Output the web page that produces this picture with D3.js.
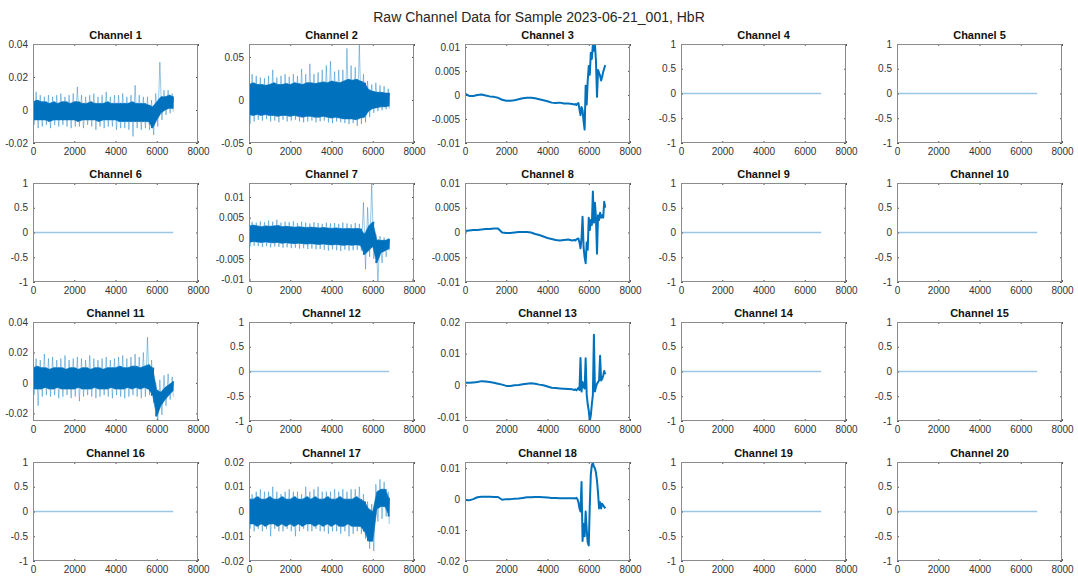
<!DOCTYPE html>
<html>
<head>
<meta charset="utf-8">
<script src="https://cdn.jsdelivr.net/npm/d3@7"></script>
<style>
body { margin: 0; background: #fff; }
svg { display: block; font-family: "Liberation Sans", Arial, Helvetica, sans-serif; }
</style>
</head>
<body>
<svg id="chart" width="1078" height="579"></svg>
<script>
// ---- data ----
var mainTitle = "Raw Channel Data for Sample 2023-06-21_001, HbR";
var channelNames = ["Channel 1","Channel 2","Channel 3","Channel 4","Channel 5",
                    "Channel 6","Channel 7","Channel 8","Channel 9","Channel 10",
                    "Channel 11","Channel 12","Channel 13","Channel 14","Channel 15",
                    "Channel 16","Channel 17","Channel 18","Channel 19","Channel 20"];
var channelKinds = ["noisy","noisy","trace","flat","flat",
                    "flat","noisy","trace","flat","flat",
                    "noisy","flat","trace","flat","flat",
                    "flat","noisy","trace","flat","flat"];

var xTicks = [0, 2000, 4000, 6000, 8000];
var flatTicks = [-1, -0.5, 0, 0.5, 1];

// y-axis range and tick values per channel
var yRanges = [[-0.02,0.04],[-0.05,0.065],[-0.01,0.0106],[-1,1],[-1,1],
               [-1,1],[-0.0106,0.0134],[-0.01,0.01],[-1,1],[-1,1],
               [-0.025,0.04],[-1,1],[-0.0113,0.02],[-1,1],[-1,1],
               [-1,1],[-0.02,0.02],[-0.02,0.012],[-1,1],[-1,1]];
var yTickSets = [[-0.02,0,0.02,0.04],[-0.05,0,0.05],[-0.01,-0.005,0,0.005,0.01],flatTicks,flatTicks,
                 flatTicks,[-0.01,-0.005,0,0.005,0.01],[-0.01,-0.005,0,0.005,0.01],flatTicks,flatTicks,
                 [-0.02,0,0.02,0.04],flatTicks,[-0.01,0,0.01,0.02],flatTicks,flatTicks,
                 flatTicks,[-0.02,-0.01,0,0.01,0.02],[-0.02,-0.01,0,0.01],flatTicks,flatTicks];

// flat channels: a line at zero over the whole recording
var flatX = [0, 6800];
var flatY = [0, 0];

// noisy channels, sampled every 200 points: dense band (lo/hi) and outer spikes
var binX = [0,200,400,600,800,1000,1200,1400,1600,1800,
            2000,2200,2400,2600,2800,3000,3200,3400,3600,3800,
            4000,4200,4400,4600,4800,5000,5200,5400,5600,5800,
            6000,6200,6400,6600,6800];

var ch1Hi = [.005,.006,.005,.005,.004,.005,.004,.005,.005,.004,
             .005,.005,.004,.004,.005,.004,.004,.004,.005,.004,
             .004,.004,.004,.004,.005,.004,.004,.004,.003,.002,
             .005,.008,.008,.009,.008];
var ch1Lo = [-.006,-.006,-.006,-.006,-.007,-.006,-.006,-.006,-.006,-.006,
             -.006,-.007,-.006,-.006,-.006,-.006,-.007,-.006,-.006,-.006,
             -.006,-.007,-.007,-.007,-.007,-.007,-.007,-.007,-.007,-.011,
             -.006,-.002,.000,.001,.001];
var ch1PeakHi = [.010,.011,.009,.008,.009,.008,.009,.010,.008,.009,
                 .010,.014,.009,.008,.009,.010,.008,.009,.011,.008,
                 .009,.009,.010,.008,.009,.015,.009,.008,.008,.006,
                 .010,.029,.012,.012,.010];
var ch1PeakLo = [-.009,-.011,-.010,-.009,-.011,-.009,-.010,-.009,-.010,-.011,
                 -.010,-.010,-.011,-.009,-.010,-.012,-.010,-.011,-.010,-.010,
                 -.012,-.011,-.011,-.012,-.016,-.011,-.012,-.011,-.012,-.015,
                 -.010,-.006,-.003,-.002,-.001];

var ch2Hi = [.018,.020,.018,.018,.017,.018,.020,.018,.018,.019,
             .018,.020,.019,.018,.020,.020,.019,.020,.021,.020,
             .022,.021,.020,.022,.024,.023,.024,.022,.020,.012,
             .010,.009,.009,.008,.008];
var ch2Lo = [-.017,-.018,-.017,-.018,-.017,-.018,-.018,-.019,-.018,-.018,
             -.019,-.018,-.019,-.020,-.019,-.019,-.020,-.020,-.019,-.020,
             -.021,-.020,-.021,-.022,-.022,-.022,-.023,-.021,-.020,-.013,
             -.010,-.009,-.008,-.008,-.007];
var ch2PeakHi = [.025,.030,.028,.026,.025,.028,.035,.026,.028,.030,
                 .027,.030,.028,.036,.030,.042,.030,.032,.035,.040,
                 .045,.033,.035,.035,.060,.040,.038,.065,.030,.022,
                 .018,.020,.017,.016,.013];
var ch2PeakLo = [-.028,-.025,-.023,-.024,-.022,-.025,-.024,-.026,-.023,-.025,
                 -.024,-.023,-.025,-.026,-.025,-.024,-.026,-.025,-.024,-.026,
                 -.027,-.025,-.026,-.027,-.028,-.027,-.030,-.028,-.026,-.020,
                 -.015,-.013,-.012,-.011,-.010];

var ch7Hi = [.0030,.0032,.0030,.0028,.0030,.0029,.0030,.0031,.0028,.0029,
             .0028,.0027,.0028,.0027,.0026,.0027,.0026,.0025,.0026,.0025,
             .0024,.0025,.0024,.0023,.0024,.0023,.0024,.0023,.0010,.0030,
             .0040,-.0005,-.0005,-.0005,-.0002];
var ch7Lo = [-.0010,-.0008,-.0009,-.0010,-.0009,-.0010,-.0011,-.0010,-.0012,-.0011,
             -.0012,-.0013,-.0012,-.0013,-.0014,-.0013,-.0014,-.0015,-.0014,-.0015,
             -.0016,-.0015,-.0016,-.0017,-.0016,-.0017,-.0016,-.0017,-.0040,-.0030,
             -.0020,-.0060,-.0035,-.0030,-.0025];
var ch7PeakHi = [.0042,.0040,.0038,.0041,.0039,.0043,.0040,.0045,.0038,.0040,
                 .0039,.0041,.0037,.0040,.0038,.0036,.0039,.0037,.0035,.0038,
                 .0036,.0037,.0035,.0038,.0036,.0034,.0037,.0035,.0087,.0075,
                 .0134,.0010,.0005,.0002,.0000];
var ch7PeakLo = [-.0020,-.0018,-.0019,-.0021,-.0019,-.0022,-.0020,-.0021,-.0023,-.0022,
                 -.0024,-.0023,-.0025,-.0024,-.0026,-.0025,-.0027,-.0026,-.0028,-.0030,
                 -.0027,-.0029,-.0031,-.0028,-.0030,-.0029,-.0028,-.0030,-.0075,-.0045,
                 -.0050,-.0106,-.0060,-.0045,-.0030];

var ch11Hi = [.010,.011,.010,.010,.009,.010,.010,.010,.009,.010,
              .010,.009,.010,.010,.009,.010,.010,.009,.010,.010,
              .010,.011,.010,.010,.011,.011,.010,.011,.012,.010,
              -.005,-.006,-.003,-.001,.001];
var ch11Lo = [-.004,-.004,-.004,-.003,-.004,-.004,-.003,-.004,-.004,-.004,
              -.004,-.003,-.004,-.004,-.004,-.003,-.004,-.004,-.004,-.003,
              -.004,-.004,-.004,-.003,-.004,-.003,-.004,-.003,-.004,-.008,
              -.022,-.015,-.011,-.008,-.005];
var ch11PeakHi = [.020,.016,.015,.019,.016,.017,.015,.016,.018,.015,
                  .016,.017,.016,.015,.018,.016,.015,.016,.017,.015,
                  .016,.017,.018,.016,.017,.019,.017,.020,.030,.015,
                  .000,.002,.005,.006,.004];
var ch11PeakLo = [-.008,-.015,-.009,-.008,-.009,-.008,-.010,-.009,-.008,-.010,
                  -.009,-.012,-.009,-.008,-.009,-.010,-.009,-.008,-.009,-.010,
                  -.008,-.009,-.010,-.009,-.008,-.009,-.010,-.009,-.008,-.013,
                  -.025,-.021,-.015,-.011,-.009];

var ch17Hi = [.005,.005,.006,.005,.005,.006,.005,.005,.006,.005,
              .005,.006,.005,.005,.006,.005,.006,.005,.005,.006,
              .005,.005,.006,.005,.005,.005,.006,.005,.004,.001,
              .000,.008,.009,.009,.005];
var ch17Lo = [-.005,-.005,-.006,-.005,-.006,-.005,-.005,-.006,-.005,-.006,
              -.005,-.006,-.005,-.006,-.005,-.005,-.006,-.005,-.006,-.005,
              -.006,-.005,-.006,-.006,-.005,-.006,-.006,-.006,-.008,-.012,
              -.012,.001,.002,.002,-.002];
var ch17PeakHi = [.008,.007,.008,.009,.008,.008,.010,.008,.007,.008,
                  .009,.008,.008,.007,.010,.008,.009,.010,.008,.008,
                  .008,.009,.008,.009,.008,.009,.009,.010,.007,.004,
                  .003,.011,.013,.012,.008];
var ch17PeakLo = [-.007,-.008,-.007,-.008,-.007,-.010,-.007,-.008,-.008,-.007,
                  -.008,-.010,-.008,-.007,-.008,-.008,-.007,-.008,-.008,-.009,
                  -.008,-.008,-.009,-.008,-.010,-.009,-.008,-.009,-.011,-.015,
                  -.016,-.004,-.003,-.002,-.005];

// slow channels: one trace, every 200 points then every 50 in the unsettled tail
var traceX = [0,200,400,600,800,1000,1200,1400,1600,1800,
              2000,2200,2400,2600,2800,3000,3200,3400,3600,3800,
              4000,4200,4400,4600,4800,5000,5200,
              5300,5350,5400,5450,5500,5550,5600,5650,5700,5750,
              5800,5850,5900,5950,6000,6050,6100,6150,6200,6250,
              6300,6350,6400,6450,6500,6550,6600,6650,6700,6750,6800];

var ch3Y = [.0003,-.0002,-.0002,.0000,.0001,-.0001,-.0003,-.0004,-.0006,-.0010,
            -.0012,-.0012,-.0011,-.0009,-.0007,-.0006,-.0006,-.0007,-.0009,-.0011,
            -.0013,-.0016,-.0017,-.0016,-.0018,-.0018,-.0019,
            -.0020,-.0019,-.0021,-.0018,-.0017,-.0030,-.0042,-.0025,-.0032,-.0055,
            -.0072,.0019,-.0020,.0030,.0060,.0042,.0088,.0075,.0105,.0092,
            .0106,.0070,-.0004,.0052,.0046,.0040,.0030,.0038,.0048,.0055,.0062];

var ch8Y = [.0003,.0004,.0005,.0005,.0006,.0007,.0007,.0008,.0008,.0000,
            -.0001,-.0001,.0000,.0001,.0001,.0001,.0000,-.0003,-.0005,-.0008,
            -.0011,-.0013,-.0015,-.0016,-.0015,-.0014,-.0016,
            -.0015,-.0016,-.0014,-.0013,-.0012,-.0020,-.0032,-.0012,.0032,-.0030,
            -.0050,-.0062,-.0020,-.0035,.0030,.0005,.0025,.0015,.0083,.0020,
            .0060,.0030,-.0043,.0035,.0025,.0040,.0030,.0035,.0030,.0062,.0050];

var ch13Y = [.0008,.0008,.0009,.0010,.0013,.0012,.0010,.0008,.0005,.0002,
             -.0002,-.0002,.0000,.0001,.0003,.0005,.0006,.0005,.0002,.0000,
             -.0004,-.0008,-.0009,-.0010,-.0011,-.0012,-.0013,
             -.0015,-.0013,-.0016,-.0012,-.0008,-.0015,.0086,-.0020,.0010,-.0005,
             -.0010,.0085,-.0030,-.0060,-.0080,-.0113,-.0095,-.0060,-.0030,.0160,
             -.0020,-.0005,.0005,.0010,.0015,.0093,.0015,.0020,.0030,.0045,.0035];

var ch18Y = [-.0003,-.0004,.0000,.0006,.0008,.0008,.0008,.0007,.0007,-.0002,
             .0000,.0000,.0001,.0002,.0004,.0006,.0006,.0007,.0007,.0006,
             .0005,.0004,.0004,.0003,.0003,.0003,.0003,
             .0003,.0002,.0004,.0000,-.0010,-.0030,-.0040,.0055,-.0135,-.0080,
             -.0120,-.0040,-.0100,-.0140,-.0150,-.0020,.0080,.0110,.0118,.0105,
             .0100,.0085,.0060,.0020,-.0030,-.0010,-.0030,-.0015,-.0020,-.0025,-.0030];

var noisyData = {
  1:  { hi: ch1Hi,  lo: ch1Lo,  peakHi: ch1PeakHi,  peakLo: ch1PeakLo },
  2:  { hi: ch2Hi,  lo: ch2Lo,  peakHi: ch2PeakHi,  peakLo: ch2PeakLo },
  7:  { hi: ch7Hi,  lo: ch7Lo,  peakHi: ch7PeakHi,  peakLo: ch7PeakLo },
  11: { hi: ch11Hi, lo: ch11Lo, peakHi: ch11PeakHi, peakLo: ch11PeakLo },
  17: { hi: ch17Hi, lo: ch17Lo, peakHi: ch17PeakHi, peakLo: ch17PeakLo }
};
var traceData = { 3: ch3Y, 8: ch8Y, 13: ch13Y, 18: ch18Y };

// ---- layout ----
var blue = "#0072BD";
var colLeft = [33, 249, 465, 681, 897];
var rowTop = [44, 183, 322, 462];
var plotW = 165, plotH = 99;
var tickLen = 2;

var svg = d3.select("#chart");
svg.append("rect").attr("width", 1078).attr("height", 579).attr("fill", "#fff");

svg.append("text")
  .attr("x", 539).attr("y", 22)
  .attr("text-anchor", "middle")
  .attr("font-size", "14px")
  .attr("fill", "#262626")
  .text(mainTitle);

var lineXY = d3.line()
  .x(function(p) { return p.sx; })
  .y(function(p) { return p.sy; });

channelNames.forEach(function(name, i) {
  var num = i + 1;
  var left = colLeft[i % 5], top = rowTop[Math.floor(i / 5)];

  var x = d3.scaleLinear().domain([0, 8000]).range([0, plotW]);
  var y = d3.scaleLinear().domain(yRanges[i]).range([plotH, 0]);

  var g = svg.append("g").attr("transform", "translate(" + left + "," + top + ")");

  g.append("clipPath").attr("id", "clip" + num)
    .append("rect").attr("width", plotW).attr("height", plotH);

  var plot = g.append("g").attr("clip-path", "url(#clip" + num + ")");

  if (channelKinds[i] === "noisy") {
    var d = noisyData[num];
    var half = (x(binX[1]) - x(binX[0])) / 4;
    var xMax = x(binX[binX.length - 1]);
    // outer spikes: zig-zag through the extremes of each bin (hi just before, lo just after the bin centre)
    var spikePts = [];
    binX.forEach(function(bx, k) {
      spikePts.push({ sx: Math.max(0, x(bx) - half), sy: y(d.peakHi[k]) });
      spikePts.push({ sx: Math.min(xMax, x(bx) + half), sy: y(d.peakLo[k]) });
    });
    plot.append("path")
      .datum(spikePts)
      .attr("fill", "none")
      .attr("stroke", blue)
      .attr("stroke-opacity", 0.5)
      .attr("stroke-width", 0.8)
      .attr("d", lineXY);
    // dense core band
    plot.append("path")
      .datum(binX.map(function(bx, k) { return [bx, d.lo[k], d.hi[k]]; }))
      .attr("fill", blue)
      .attr("stroke", blue)
      .attr("stroke-width", 0.6)
      .attr("d", d3.area()
        .x(function(p) { return x(p[0]); })
        .y0(function(p) { return y(p[1]); })
        .y1(function(p) { return y(p[2]); }));
    // core edge texture: zig-zag between band edges
    var corePts = [];
    binX.forEach(function(bx, k) {
      corePts.push({ sx: Math.min(xMax, x(bx) + half), sy: y(d.hi[k]) });
      corePts.push({ sx: Math.max(0, x(bx) - half), sy: y(d.lo[k]) });
    });
    plot.append("path")
      .datum(corePts)
      .attr("fill", "none")
      .attr("stroke", blue)
      .attr("stroke-width", 1.2)
      .attr("d", lineXY);
  } else if (channelKinds[i] === "trace") {
    var ys = traceData[num];
    plot.append("path")
      .datum(traceX.map(function(tx, k) { return { sx: x(tx), sy: y(ys[k]) }; }))
      .attr("fill", "none")
      .attr("stroke", blue)
      .attr("stroke-width", 2)
      .attr("stroke-linejoin", "round")
      .attr("d", lineXY);
  } else {
    plot.append("path")
      .datum(flatX.map(function(fx, k) { return { sx: x(fx), sy: y(flatY[k]) }; }))
      .attr("fill", "none")
      .attr("stroke", blue)
      .attr("stroke-opacity", 0.4)
      .attr("stroke-width", 1.6)
      .attr("d", lineXY);
  }

  // axes: labels on left and bottom, inward ticks on all four sides
  var fmt = function(v) { return String(v); };
  var axes = [
    { ax: d3.axisBottom(x).tickValues(xTicks).tickFormat(fmt), t: "translate(0," + plotH + ")" },
    { ax: d3.axisLeft(y).tickValues(yTickSets[i]).tickFormat(fmt), t: "translate(0,0)" },
    { ax: d3.axisTop(x).tickValues(xTicks).tickFormat(""), t: "translate(0,0)" },
    { ax: d3.axisRight(y).tickValues(yTickSets[i]).tickFormat(""), t: "translate(" + plotW + ",0)" }
  ];
  axes.forEach(function(a) {
    var ag = g.append("g").attr("transform", a.t)
      .call(a.ax.tickSizeInner(-tickLen).tickSizeOuter(0).tickPadding(5));
    ag.select(".domain").remove();
    ag.selectAll(".tick line").attr("stroke", "#555");
    ag.selectAll(".tick text").attr("fill", "#333").attr("font-size", "10px")
      .attr("font-family", "'Liberation Sans', Arial, sans-serif");
  });

  g.append("rect")
    .attr("x", 0.5).attr("y", 0.5)
    .attr("width", plotW - 1).attr("height", plotH - 1)
    .attr("fill", "none")
    .attr("stroke", "#8c8c8c")
    .attr("stroke-width", 1);

  g.append("text")
    .attr("x", plotW / 2).attr("y", -5)
    .attr("text-anchor", "middle")
    .attr("font-size", "11px")
    .attr("font-weight", "bold")
    .attr("fill", "#111")
    .text(name);
});
</script>
</body>
</html>
